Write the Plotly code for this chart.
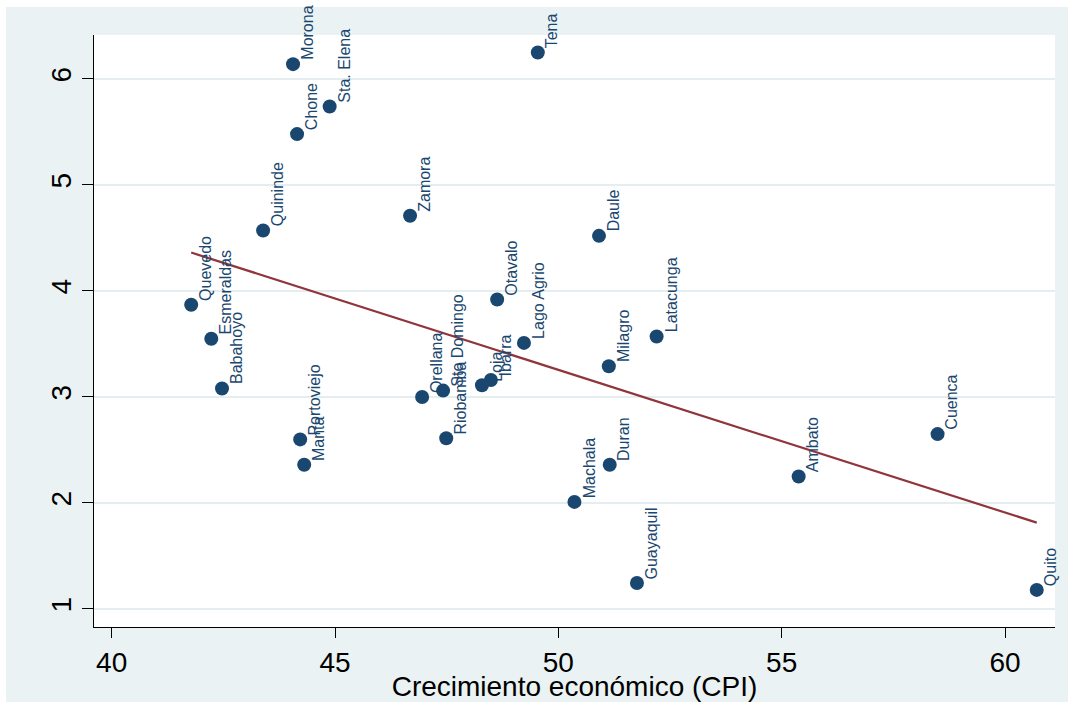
import numpy as np
import plotly.graph_objects as go

# Ciudades y sus valores
ciudades = ["Morona", "Tena", "Sta. Elena", "Chone", "Zamora", "Quininde", "Daule",
            "Quevedo", "Otavalo", "Lago Agrio", "Esmeraldas", "Latacunga", "Milagro",
            "Babahoyo", "Orellana", "Sto Domingo", "Loja", "Ibarra", "Riobamba",
            "Portoviejo", "Manta", "Machala", "Duran", "Ambato", "Cuenca",
            "Guayaquil", "Quito"]
cpi = [44.06, 49.54, 44.88, 44.15, 46.68, 43.39, 50.91,
       41.78, 48.63, 49.23, 42.23, 52.20, 51.13,
       42.47, 46.95, 47.42, 48.29, 48.49, 47.49,
       44.22, 44.31, 50.36, 51.15, 55.38, 58.49,
       51.76, 60.71]
valor_y = [6.14, 6.25, 5.74, 5.48, 4.71, 4.57, 4.52,
           3.87, 3.92, 3.51, 3.55, 3.57, 3.29,
           3.08, 3.00, 3.06, 3.11, 3.16, 2.61,
           2.60, 2.36, 2.01, 2.36, 2.25, 2.65,
           1.245, 1.18]
x_ticks = [40, 45, 50, 55, 60]
y_ticks = [1, 2, 3, 4, 5, 6]

NAVY = "#1a476f"
MAROON = "#90353b"
BG = "#eaf2f3"
FONT = "Liberation Sans, Arial, sans-serif"

# Recta de ajuste lineal (MCO)
pend, inter = np.polyfit(cpi, valor_y, 1)
x_fit = np.array([min(cpi), max(cpi)])
y_fit = inter + pend * x_fit

fig = go.Figure()
fig.add_trace(go.Scatter(
    x=cpi, y=valor_y, mode="markers",
    marker=dict(color=NAVY, size=14, line=dict(width=0)),
    cliponaxis=False, showlegend=False, hoverinfo="text", text=ciudades,
))
fig.add_trace(go.Scatter(
    x=x_fit, y=y_fit, mode="lines",
    line=dict(color=MAROON, width=2.2), showlegend=False,
))

for nombre, xv, yv in zip(ciudades, cpi, valor_y):
    fig.add_annotation(
        x=xv, y=yv, text=nombre, showarrow=False, textangle=-90,
        xanchor="left", yanchor="bottom", xshift=4, yshift=2,
        font=dict(family=FONT, size=16, color=NAVY),
    )

W, H = 1068, 702
L, R, T, B = 94, 13, 35, 75
pw, ph = W - L - R, H - T - B

# Franjas blancas del borde exterior
fig.add_shape(type="rect", xref="paper", yref="paper",
              x0=-L / pw, x1=(W - L) / pw + 0.01, y0=1 + (T - 7) / ph, y1=1 + T / ph + 0.01,
              fillcolor="white", line=dict(width=0), layer="below")
fig.add_shape(type="rect", xref="paper", yref="paper",
              x0=-L / pw - 0.01, x1=-(L - 6) / pw, y0=-B / ph - 0.01, y1=1 + T / ph + 0.01,
              fillcolor="white", line=dict(width=0), layer="below")

fig.update_layout(
    width=W, height=H, autosize=False,
    margin=dict(l=L, r=R, t=T, b=B, pad=0, autoexpand=False),
    paper_bgcolor=BG, plot_bgcolor="white",
    font=dict(family=FONT, color="black"),
    xaxis=dict(
        range=[39.604, 61.119], tickvals=x_ticks, ticks="outside", ticklen=10,
        tickcolor="black", tickwidth=1, showline=True, linecolor="black", linewidth=1,
        showgrid=False, zeroline=False, tickfont=dict(size=28), automargin=False,
        title=dict(text="Crecimiento económico (CPI)", font=dict(size=28), standoff=0),
    ),
    yaxis=dict(
        range=[0.830, 6.415], tickvals=y_ticks, ticks="outside", ticklen=11,
        tickcolor="black", tickwidth=1, showline=True, linecolor="black", linewidth=1,
        showgrid=True, gridcolor="#e4eef0", gridwidth=2, zeroline=False,
        tickfont=dict(size=28), tickangle=-90, automargin=False,
    ),
)

fig.write_html("out.html")
